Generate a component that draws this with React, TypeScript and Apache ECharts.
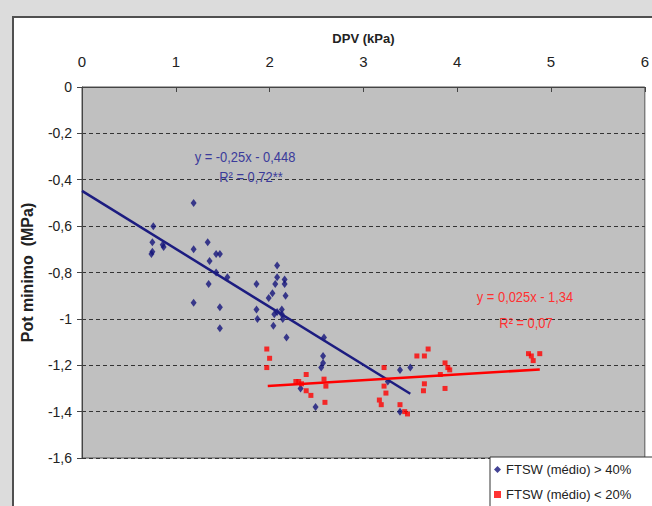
import React, { useEffect, useRef } from "react";
import * as echarts from "echarts";

const blueX = [0.76, 0.75, 0.74, 0.75, 0.86, 0.87, 1.19, 1.19, 1.19, 1.34, 1.36, 1.43, 1.47, 1.35, 1.43, 1.55, 1.47, 1.47,
  2.08, 2.08, 2.16, 2.06, 1.86, 2.16, 2.03, 2.17, 1.99, 1.86, 1.87, 2.08, 2.13, 2.13, 2.05, 2.04, 2.14, 2.18,
  2.58, 2.57, 2.57, 2.55, 2.33, 2.49, 3.39, 3.50, 3.26, 3.39];
const blueY = [-0.60, -0.67, -0.72, -0.71, -0.68, -0.69, -0.50, -0.70, -0.93, -0.67, -0.75, -0.72, -0.72, -0.85, -0.80, -0.82, -0.95, -1.04,
  -0.77, -0.82, -0.83, -0.85, -0.85, -0.85, -0.89, -0.90, -0.91, -0.96, -1.00, -0.97, -0.96, -0.98, -0.98, -1.03, -1.00, -1.08,
  -1.08, -1.16, -1.19, -1.21, -1.30, -1.38, -1.22, -1.21, -1.27, -1.40];

const redX = [1.97, 2.00, 1.97, 2.39, 2.31, 2.34, 2.39, 2.44, 2.58, 2.60, 2.59, 3.22, 3.22, 3.24, 3.17, 3.19, 3.39, 3.44, 3.47,
  3.57, 3.65, 3.69, 3.65, 3.64, 3.87, 3.90, 3.92, 3.82, 3.87, 4.76, 4.79, 4.88, 4.81, 2.28];
const redY = [-1.13, -1.17, -1.21, -1.24, -1.27, -1.28, -1.31, -1.33, -1.26, -1.29, -1.36, -1.21, -1.29, -1.32, -1.35, -1.37, -1.37, -1.40, -1.41,
  -1.16, -1.16, -1.13, -1.28, -1.31, -1.19, -1.21, -1.22, -1.24, -1.30, -1.15, -1.16, -1.15, -1.18, -1.27];

const blueFitX = [0, 3.5];
const blueFitY = [-0.448, -1.323];
const redFitX = [1.98, 4.88];
const redFitY = [-1.29, -1.218];

const blueName = "FTSW (médio) > 40%";
const redName = "FTSW (médio) < 20%";

const SANS = "'Liberation Sans', Arial, sans-serif";

const zip = (xs: number[], ys: number[]) => xs.map((x, i) => [x, ys[i]]);

export default function App() {
  const ref = useRef<HTMLDivElement>(null);
  useEffect(() => {
    if (!ref.current) return;
    const chart = echarts.init(ref.current, undefined, { renderer: "svg" });
    const note = (text: string, x: number, y: number, fill: string) => ({
      type: "text", x, y, z: 100, scaleX: 0.86,
      style: { text, fill, font: `15px ${SANS}`, align: "center", verticalAlign: "middle" },
    });
    chart.setOption({
      animation: false,
      backgroundColor: "transparent",
      grid: {
        left: 82, right: 2, top: 87, bottom: 48,
        show: true, backgroundColor: "#c0c0c0", borderColor: "#555", borderWidth: 1,
      },
      xAxis: {
        type: "value", position: "top", min: 0, max: 6, interval: 1,
        name: "DPV (kPa)", nameLocation: "middle", nameGap: 42,
        nameTextStyle: { fontWeight: "bold", fontSize: 13, fontFamily: SANS, color: "#222" },
        axisLine: { show: true, onZero: false, lineStyle: { color: "#444", width: 1 } },
        axisTick: { show: true, inside: true, length: 5, lineStyle: { color: "#444" } },
        axisLabel: { margin: 18, fontSize: 15, fontFamily: SANS, color: "#222" },
        splitLine: { show: false },
      },
      yAxis: {
        type: "value", min: -1.6, max: 0, interval: 0.2,
        name: "Pot minimo  (MPa)", nameLocation: "middle", nameGap: 47, nameRotate: 90,
        nameTextStyle: { fontWeight: "bold", fontSize: 16, fontFamily: SANS, color: "#222" },
        axisLine: { show: true, onZero: false, lineStyle: { color: "#444", width: 1 } },
        axisTick: { show: true, inside: false, length: 5, lineStyle: { color: "#444" } },
        axisLabel: {
          margin: 10, fontSize: 14, fontFamily: SANS, color: "#222",
          formatter: (v: number) => String(Math.round(v * 10) / 10).replace(".", ","),
        },
        splitLine: { show: true, lineStyle: { color: "#333", type: [4, 3], width: 1.2 } },
      },
      legend: {
        orient: "vertical", left: 490, top: 457, height: 80, width: 200,
        padding: [6, 40, 30, 4], itemGap: 12, itemWidth: 7, itemHeight: 7,
        backgroundColor: "#fff", borderColor: "#333", borderWidth: 1,
        textStyle: { fontSize: 13, fontFamily: SANS, color: "#222" },
        data: [{ name: blueName, icon: "diamond" }, { name: redName, icon: "rect" }],
      },
      graphic: [
        note("y = -0,25x - 0,448", 245, 157, "#3b3b9b"),
        note("R² = 0,72**", 251, 177, "#3b3b9b"),
        note("y = 0,025x - 1,34", 525, 297, "#ff3030"),
        note("R² = 0,07", 526, 323, "#ff3030"),
      ],
      series: [
        {
          name: blueName, type: "scatter", symbol: "diamond", symbolSize: [6, 8],
          itemStyle: { color: "#14147a" }, data: zip(blueX, blueY), z: 3,
        },
        {
          name: redName, type: "scatter", symbol: "rect", symbolSize: 5,
          itemStyle: { color: "#ff0000" }, data: zip(redX, redY), z: 3,
        },
        {
          name: "blueFit", type: "line", showSymbol: false, symbol: "none",
          lineStyle: { color: "#1c1c80", width: 2.5 }, data: zip(blueFitX, blueFitY), z: 4,
        },
        {
          name: "redFit", type: "line", showSymbol: false, symbol: "none",
          lineStyle: { color: "#ff0000", width: 2.5 }, data: zip(redFitX, redFitY), z: 4,
        },
      ],
    });
    return () => chart.dispose();
  }, []);

  return (
    <div style={{ position: "absolute", left: 0, top: 0, width: 652, height: 506, background: "#dcdcdc", overflow: "hidden" }}>
      <div style={{ position: "absolute", left: 12, top: 16, width: 700, height: 600, background: "#fff", border: "2px solid #505050", boxSizing: "border-box" }} />
      <div ref={ref} style={{ position: "absolute", left: 0, top: 0, width: 652, height: 506 }} />
    </div>
  );
}
